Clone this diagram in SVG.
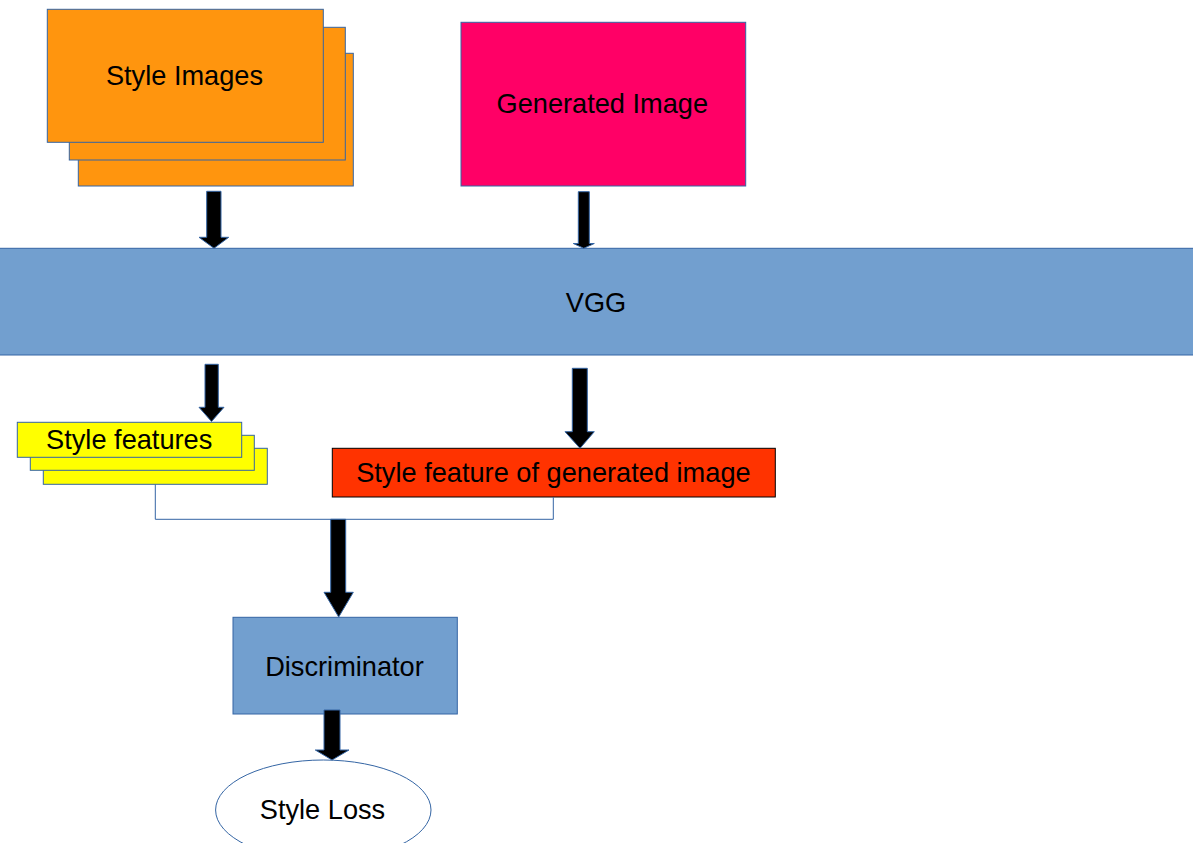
<svg xmlns="http://www.w3.org/2000/svg" width="1193" height="843" viewBox="0 0 1193 843">
<style>
text{font-family:"Liberation Sans",Arial,sans-serif;font-size:27.2px;fill:#000;text-anchor:middle}
.b{stroke:#3465a4;stroke-width:1}
.arr{fill:#000;stroke:#3465a4;stroke-width:1}
.ln{fill:none;stroke:#3465a4;stroke-width:1}
</style>
<rect width="1193" height="843" fill="#fff"/>
<g id="style-images">
<rect class="b" x="78.3" y="53.3" width="275" height="132.7" fill="#ff950e"/>
<rect class="b" x="69.3" y="27.3" width="276" height="132.7" fill="#ff950e"/>
<rect class="b" x="47.3" y="9.3" width="276" height="133" fill="#ff950e"/>
<text x="184.5" y="85">Style Images</text>
</g>
<g id="generated-image">
<rect class="b" x="461" y="22.3" width="284.7" height="163.7" fill="#ff0066"/>
<text x="602.3" y="113">Generated Image</text>
</g>
<g id="vgg">
<rect class="b" x="-1" y="248.3" width="1195" height="106.7" fill="#729fcf"/>
<text x="596" y="311.5">VGG</text>
</g>
<g id="style-features">
<rect class="b" x="43.3" y="448.3" width="224" height="36" fill="#ffff00"/>
<rect class="b" x="30.3" y="435.3" width="224" height="35" fill="#ffff00"/>
<rect class="b" x="17.3" y="422.3" width="224.4" height="35" fill="#ffff00"/>
<text x="129.2" y="449">Style features</text>
</g>
<g id="style-feature-generated">
<rect x="332.3" y="448.3" width="443" height="48.7" fill="#ff3300" stroke="#000" stroke-width="1"/>
<text x="553.4" y="481.5">Style feature of generated image</text>
</g>
<g id="discriminator">
<rect class="b" x="233" y="617.3" width="224.3" height="96.7" fill="#729fcf"/>
<text x="344.5" y="675.5">Discriminator</text>
</g>
<g id="style-loss">
<ellipse class="b" cx="323.3" cy="810" rx="107.7" ry="50" fill="#fff"/>
<text x="322.5" y="819">Style Loss</text>
</g>
<g id="connectors">
<polyline class="ln" points="155.3,484.3 155.3,519.3 553.3,519.3 553.3,497"/>
<polygon class="arr" points="206.7,191.3 221,191.3 221,237.3 228.7,237.3 214,248.3 199,237.3 206.7,237.3"/>
<polygon class="arr" points="578.3,191.7 589.3,191.7 589.3,243.5 594.3,243.5 583.8,248.3 573.3,243.5 578.3,243.5"/>
<polygon class="arr" points="205,364.3 218.3,364.3 218.3,407.3 224,407.3 211.5,421.5 199,407.3 205,407.3"/>
<polygon class="arr" points="572.3,368.3 587.3,368.3 587.3,431.7 594.3,431.7 580,448.3 565,431.7 572.3,431.7"/>
<polygon class="arr" points="330.7,519.3 345.7,519.3 345.7,592.3 353.3,592.3 338.7,617 324,592.3 330.7,592.3"/>
<polygon class="arr" points="324,710 340,710 340,750 349,750 332,760 315.3,750 324,750"/>
</g>
</svg>
